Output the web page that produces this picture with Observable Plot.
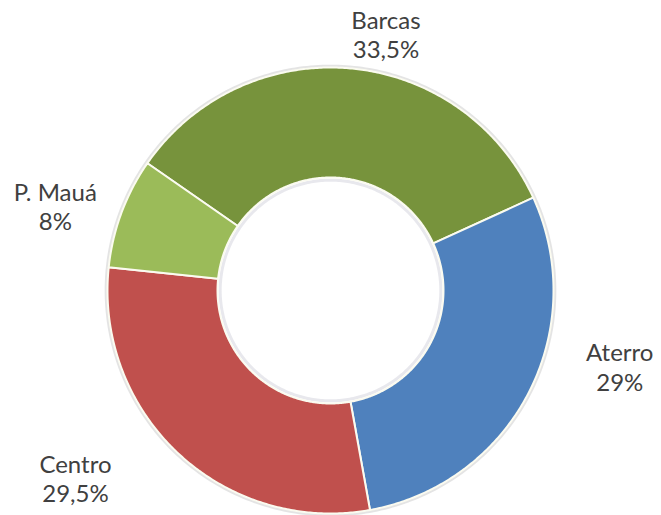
<!DOCTYPE html>
<html>
<head>
<meta charset="utf-8">
<script src="https://cdn.jsdelivr.net/npm/d3@7"></script>
<script src="https://cdn.jsdelivr.net/npm/@observablehq/plot@0.6"></script>
<style>
  html, body { margin: 0; padding: 0; background: #ffffff; }
  #chart svg { display: block; }
</style>
</head>
<body>
<div id="chart"></div>
<script>
// ---- Data ----
const categories = ["Barcas", "Aterro", "Centro", "P. Mauá"];
const shares = [33.5, 29, 29.5, 8];
const shareLabels = ["33,5%", "29%", "29,5%", "8%"];
const sliceColors = ["#77933C", "#4F81BD", "#C0504D", "#9BBB59"];

// ---- Layout (not data) ----
const W = 661, H = 515;
const cx = 330, cy = 290;          // donut centre in pixels
const R = 223;                     // outer radius, pixels
const innerRatio = 113 / 223;      // hole size relative to outer radius
const startDeg = -55.2;            // first slice starts here (clockwise from top)
// label placement relative to each slice's mid angle: [angle nudge (deg), radius (in R units)]
const labelPlacement = {
  "Barcas": [7.1, 1.177],
  "Aterro": [-12.9, 1.341],
  "Centro": [10.8, 1.419],
  "P. Mauá": [-3.3, 1.291]
};

// ---- Build slice polygons from the data ----
const total = d3.sum(shares);
const rad = d => d * Math.PI / 180;
const polar = (deg, r) => ({x: r * Math.sin(rad(deg)), y: r * Math.cos(rad(deg))});

let acc = startDeg;
const slices = categories.map((c, i) => {
  const a0 = acc;
  const a1 = acc + shares[i] / total * 360;
  acc = a1;
  return {category: c, a0, a1, mid: (a0 + a1) / 2, label: `${c}\n${shareLabels[i]}`};
});

const pts = [];
for (const s of slices) {
  const n = Math.max(4, Math.ceil((s.a1 - s.a0) / 0.5));
  for (let k = 0; k <= n; k++) {
    const a = s.a0 + (s.a1 - s.a0) * k / n;
    pts.push({category: s.category, ...polar(a, 1)});
  }
  for (let k = n; k >= 0; k--) {
    const a = s.a0 + (s.a1 - s.a0) * k / n;
    pts.push({category: s.category, ...polar(a, innerRatio)});
  }
}

const labels = slices.map(s => {
  const [dA, rr] = labelPlacement[s.category];
  return {category: s.category, text: s.label, ...polar(s.mid + dA, rr)};
});

// soft shadow rings just outside the donut and just inside the hole
const ring = d3.range(0, 361, 1).map(a => polar(a, 1.006));
const holeRing = d3.range(0, 361, 1).map(a => polar(a, innerRatio - 0.012));

const chart = Plot.plot({
  width: W,
  height: H,
  margin: 0,
  x: {domain: [-cx / R, (W - cx) / R], axis: null},
  y: {domain: [-(H - cy) / R, cy / R], axis: null},
  color: {domain: categories, range: sliceColors},
  style: {background: "#ffffff"},
  marks: [
    Plot.line(ring, {x: "x", y: "y", stroke: "#d9d9d9", strokeWidth: 3, strokeOpacity: 0.7}),
    Plot.line(holeRing, {x: "x", y: "y", stroke: "#e2e2e8", strokeWidth: 3, strokeOpacity: 0.8}),
    Plot.line(pts, {
      x: "x", y: "y", z: "category", fill: "category",
      stroke: "#fbfbf0", strokeWidth: 2, strokeLinejoin: "round",
      curve: "linear-closed"
    }),
    Plot.text(labels, {
      x: "x", y: "y", text: "text",
      fontSize: 24, lineHeight: 1.23,
      fontFamily: "Lato, 'Open Sans', sans-serif",
      fill: "#404040", textAnchor: "middle", lineAnchor: "middle"
    })
  ]
});

document.getElementById("chart").appendChild(chart);
</script>
</body>
</html>
